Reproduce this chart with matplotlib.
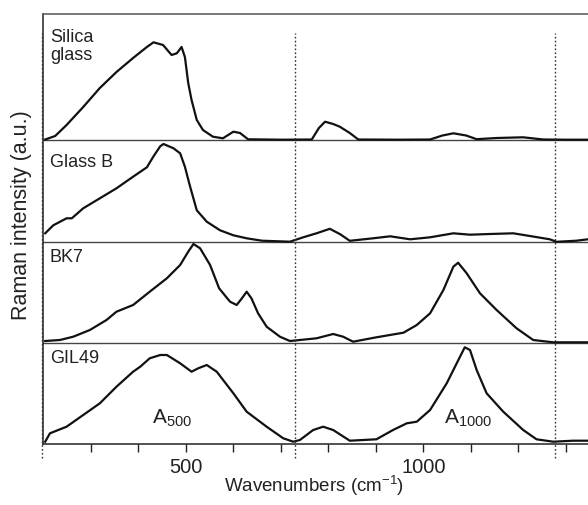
import matplotlib
matplotlib.use("Agg")
import matplotlib.pyplot as plt

plt.rcParams['font.family'] = ['Liberation Sans', 'DejaVu Sans']
plt.rcParams['mathtext.fontset'] = 'custom'
plt.rcParams['mathtext.rm'] = 'Liberation Sans'
plt.rcParams['mathtext.it'] = 'Liberation Sans:italic'

# ---- data (wavenumber cm^-1, relative intensity) ----
silica_x = [204, 225, 249, 284, 319, 354, 389, 418, 432, 452, 470, 481, 491, 498, 505, 512, 523, 536,
            557, 578, 600, 614, 631, 700, 765, 780, 793, 810, 824, 845, 863, 950, 1014, 1040, 1063,
            1090, 1112, 1154, 1210, 1252, 1300, 1350]
silica_y = [0.5, 4, 15, 33, 52, 68, 82, 93, 97.7, 95, 85, 86.7, 93, 83, 57, 40, 20, 10,
            3.3, 1.7, 8.3, 7, 0.7, 0.3, 0.5, 12, 18.3, 16, 13.3, 7, 0.5, 0.3, 0.5, 4.5, 6.7,
            4.5, 0.8, 2, 2.7, 0.5, 0.3, 0.3]

glassb_x = [204, 221, 249, 260, 284, 319, 354, 389, 418, 432, 446, 453, 474, 488, 498, 509, 523, 544,
            572, 600, 628, 660, 719, 747, 775, 803, 825, 845, 894, 930, 972, 1014, 1063, 1098,
            1140, 1189, 1224, 1266, 1280, 1322, 1346]
glassb_y = [9, 17, 24, 24, 34, 44, 54, 65.6, 75, 86, 96, 98.3, 94, 89, 75.6, 55.6, 32, 20.6,
            12, 7, 4, 1.6, 0.6, 5, 9, 13.5, 8, 1.5, 4, 6, 3, 5, 9, 7.6,
            8.3, 9, 6.3, 3, 0.5, 1.6, 3]

bk7_x = [204, 235, 263, 298, 333, 354, 389, 424, 460, 488, 505, 516, 530, 551, 570, 593, 607, 618,
         628, 638, 652, 670, 698, 719, 775, 810, 831, 852, 901, 958, 986, 1014, 1042, 1063, 1073,
         1091, 1119, 1154, 1196, 1231, 1273, 1350]
bk7_y = [2.3, 3.3, 6.6, 13.3, 23.3, 31.6, 38.3, 51.6, 65, 78.3, 91.6, 99.3, 95, 78.3, 55, 41.6, 38.3, 45,
         51.6, 45, 30, 16.6, 6.6, 2.3, 5, 9.3, 6.6, 1.6, 6, 10.6, 18.3, 30, 53.3, 76.6, 80.6,
         70, 50, 33.3, 15, 3.3, 1, 1]

gil49_x = [204, 214, 249, 284, 319, 354, 389, 404, 424, 446, 460, 488, 512, 526, 544, 565, 600, 628,
           670, 705, 726, 740, 768, 789, 810, 845, 901, 936, 965, 986, 1014, 1049, 1077, 1087, 1098,
           1112, 1133, 1168, 1210, 1238, 1273, 1315, 1347]
gil49_y = [2.3, 10.7, 17.3, 29, 40.7, 57.3, 72.3, 77.3, 85.7, 89, 89, 80.7, 72.3, 75.7, 79, 72.3, 50.7, 32.3,
           17.3, 5.7, 2.3, 4, 14, 17.3, 14, 3.3, 4.7, 14, 20.7, 22.3, 34, 60.7, 87.3, 96.7, 94,
           74, 50.7, 32.3, 14, 4.7, 2.3, 3.3, 3.3]

marker_lines = [197, 730, 1277]
xticks_major = [500, 1000]
xticks_minor = [300, 400, 600, 700, 800, 900, 1100, 1200, 1300]

# ---- layout ----
W, H = 588, 505
fig = plt.figure(figsize=(W / 100, H / 100), dpi=100)
left_px, right_px, top_px, bot_px = 43.3, 613.5, 14, 444
ax = fig.add_axes([left_px / W, (H - bot_px) / H, (right_px - left_px) / W, (bot_px - top_px) / H])
ax.set_xlim(200, 1400)
ax.set_ylim(0, 430)

offsets = [304, 201.7, 100.7, 0]
series = [(silica_x, silica_y), (glassb_x, glassb_y), (bk7_x, bk7_y), (gil49_x, gil49_y)]
for (xs, ys), off in zip(series, offsets):
    ax.plot(xs, [v + off for v in ys], color='#111111', lw=1.6, solid_joinstyle='round', zorder=3)

for off in offsets[:3]:
    ax.axhline(off, color='#444444', lw=1.0, zorder=2)

for xv in marker_lines:
    ax.plot([xv, xv], [-14, 411], ls=(0, (1.2, 1.6)), color='#333333', lw=1.0, clip_on=False, zorder=4)

# labels inside
tc = '#222222'
ax.text(214, 402.3, "Silica", fontsize=13, va='baseline', ha='left', color=tc)
ax.text(214, 384, "glass", fontsize=13, va='baseline', ha='left', color=tc)
ax.text(214, 277.3, "Glass B", fontsize=13, va='baseline', ha='left', color=tc)
ax.text(214, 182.3, "BK7", fontsize=13, va='baseline', ha='left', color=tc)
ax.text(214, 80.7, "GIL49", fontsize=13, va='baseline', ha='left', color=tc)

ax.text(428.7, 20.5, r"A$_{\mathrm{500}}$", fontsize=15, va='baseline', ha='left', color=tc)
ax.text(1043, 20, r"A$_{\mathrm{1000}}$", fontsize=15, va='baseline', ha='left', color=tc)

# axes styling
ax.set_yticks([])
ax.set_xticks(xticks_major)
ax.set_xticks(xticks_minor, minor=True)
ax.tick_params(axis='x', which='both', direction='out', length=6, width=1.0, color='#222222')
ax.tick_params(axis='x', which='major', labelsize=14.5, pad=4, labelcolor=tc)
ax.spines['left'].set_color('#222222')
ax.spines['bottom'].set_color('#222222')
ax.spines['top'].set_color('#555555')
for s in ax.spines.values():
    s.set_linewidth(1.1)

fig.text(314 / W, (H - 491.7) / H, r"Wavenumbers (cm$^{\mathrm{-1}}$)", fontsize=13.5, ha='center',
         va='baseline', color=tc)
fig.text(21.5 / W, (H - 215) / H, "Raman intensity (a.u.)", fontsize=15.5, rotation=90,
         ha='center', va='center', color=tc)

fig.savefig("out.png", dpi=100)
